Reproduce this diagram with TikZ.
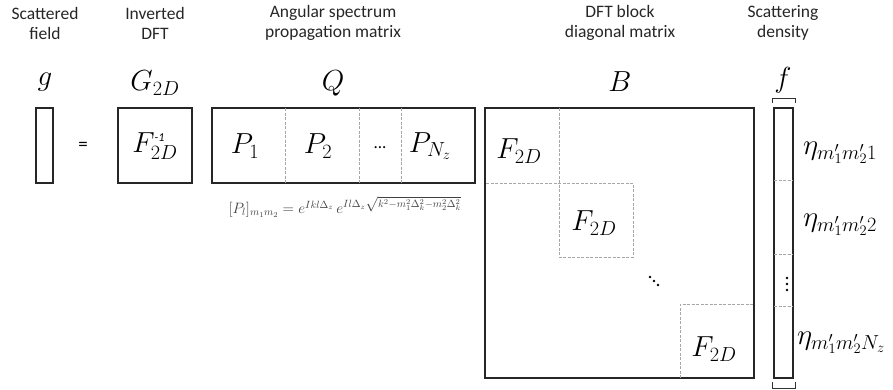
\documentclass[tikz,border=0pt]{standalone}
\usepackage{fix-cm}
\usepackage{fontspec}
\setmainfont{Carlito}
\begin{document}
\begin{tikzpicture}[x=1pt,y=-1pt,
  captxt/.style={font=\fontsize{17.5}{20}\selectfont, align=center, text=black!85},
  mlab/.style={font=\fontsize{29}{32}\selectfont},
  box/.style={draw=black!85, line width=1.3pt, inner sep=0pt, outer sep=0pt, anchor=north west},
  sep/.style={draw=black!35, line width=0.7pt, dash pattern=on 3pt off 1.5pt},
  brk/.style={draw=black!80, line width=1pt},
  dotm/.style={fill=black}]
\useasboundingbox (0,0) rectangle (893,389);

% captions
\node[captxt] (c1) at (45,23) {Scattered\\field};
\node[captxt] (c2) at (155,23) {Inverted\\DFT};
\node[captxt] (c3) at (333,23) {Angular spectrum\\propagation matrix};
\node[captxt] (c4) at (620,23) {DFT block\\diagonal matrix};
\node[captxt] (c5) at (783,23) {Scattering\\density};

% matrix names
\node[mlab] (lg) at (45,82) {$g$};
\node[mlab] (lG) at (155,83) {$G_{2D}$};
\node[mlab] (lQ) at (333,83) {$Q$};
\node[mlab] (lB) at (620,82) {$B$};
\node[mlab] (lf) at (783,80) {$f$};

% g
\node[box, minimum width=17pt, minimum height=75pt] (gbox) at (36,108) {};
\node[font=\fontsize{19}{22}\selectfont] (eq) at (83,146) {=};

% inverse DFT
\node[box, minimum width=74pt, minimum height=75pt] (fbox) at (118,108) {};
\node[mlab] (finv) at (155,146) {$F^{\mbox{\fontsize{12}{13}\selectfont\itshape -1}}_{2D}$};

% Q
\node[box, minimum width=263pt, minimum height=75pt] (qbox) at (212,108) {};
\draw[sep] (285,108) -- (285,183);
\draw[sep] (359,108) -- (359,183);
\draw[sep] (401,108) -- (401,183);
\node[mlab] (p1) at (245,146) {$P_1$};
\node[mlab] (p2) at (318,146) {$P_2$};
\node[font=\fontsize{17}{20}\selectfont] (pd) at (380,148) {...};
\node[mlab] (pn) at (430,146) {$P_{N_z}$};

% formula
\node[font=\fontsize{15}{18}\selectfont, text=black!75] (form) at (345,207)
  {$[P_l]_{m_1m_2}=e^{Ikl\Delta_z}\,e^{Il\Delta_z\sqrt{k^2-m_1^2\Delta_k^2-m_2^2\Delta_k^2}}$};

% B
\node[box, minimum width=269pt, minimum height=270pt] (bbox) at (485,108) {};
\draw[sep] (559,108) -- (559,257) -- (633,257) -- (633,183) -- (485,183);
\draw[sep] (680,378) -- (680,304) -- (754,304);
\node[mlab] (b1) at (519,151) {$F_{2D}$};
\node[mlab] (b2) at (594,223) {$F_{2D}$};
\node[mlab] (b3) at (714,349) {$F_{2D}$};
\fill[dotm] (650,277) circle (1.3) (654,281) circle (1.3) (658,285) circle (1.3);

% f
\node[box, minimum width=19pt, minimum height=270pt] (fvec) at (774,108) {};
\draw[sep] (774,180) -- (793,180);
\draw[sep] (774,254) -- (793,254);
\draw[sep] (774,306) -- (793,306);
\fill[dotm] (787,278) circle (1.3) (787,284) circle (1.3) (787,290) circle (1.3);
\draw[brk] (772,103) -- (772,98) -- (795,98) -- (795,103);
\draw[brk] (772,382) -- (772,388) -- (795,388) -- (795,382);

\node[mlab, anchor=west, inner sep=0pt] (e1) at (803,153) {$\eta_{m'_1m'_2 1}$};
\node[mlab, anchor=west, inner sep=0pt] (e2) at (803,225) {$\eta_{m'_1m'_2 2}$};
\node[mlab, anchor=west, inner sep=0pt] (e3) at (797,343) {$\eta_{m'_1m'_2 N_z}$};
\end{tikzpicture}
\end{document}
